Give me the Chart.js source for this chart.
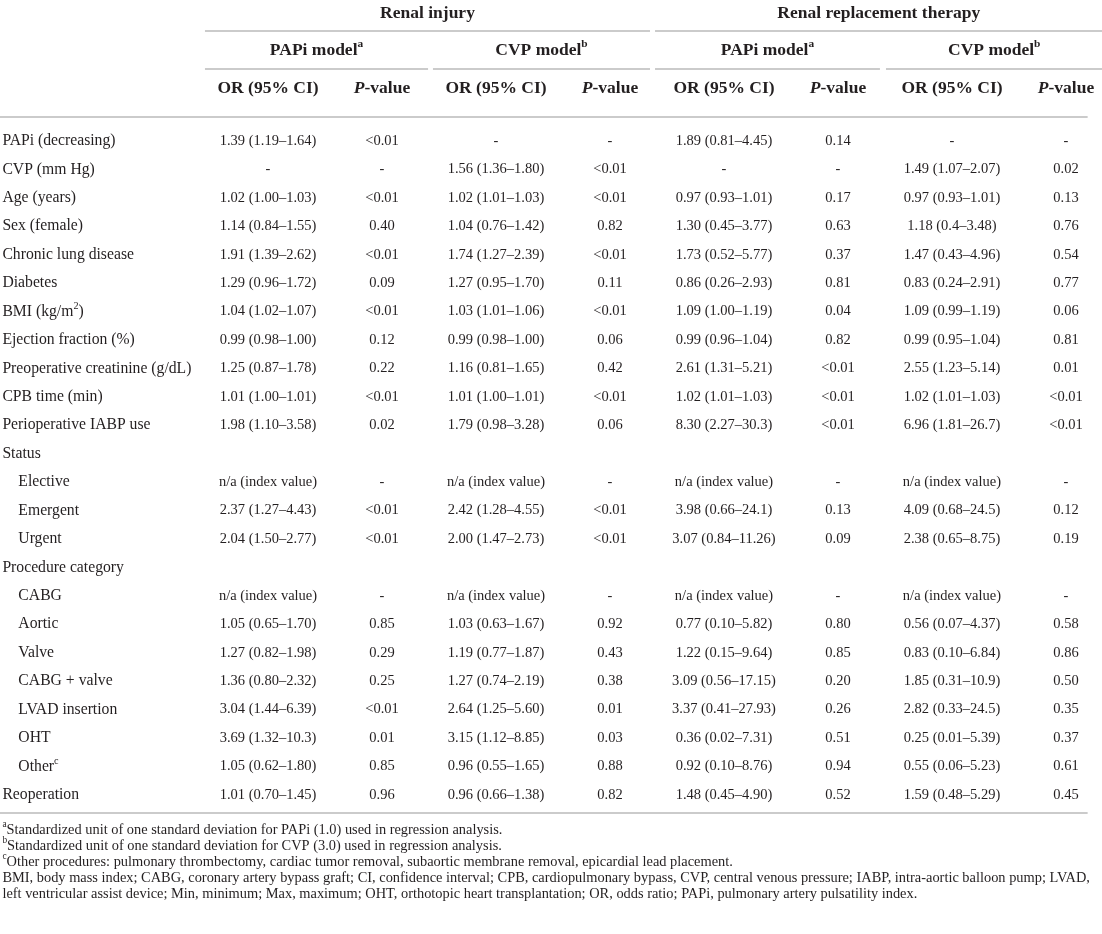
<!DOCTYPE html>
<html>
<head>
<meta charset="utf-8">
<script src="https://cdn.jsdelivr.net/npm/chart.js@4.4.1/dist/chart.umd.min.js"></script>
<style>
html,body{margin:0;padding:0;background:#ffffff;}
#wrap{width:1102px;height:934px;position:relative;}
</style>
</head>
<body>
<div id="wrap"><canvas id="c" width="1102" height="934"></canvas></div>
<script>
// ---------------- DATA ----------------
const rowLabels = [
  'PAPi (decreasing)', 'CVP (mm Hg)', 'Age (years)', 'Sex (female)', 'Chronic lung disease',
  'Diabetes', 'BMI (kg/m^2)', 'Ejection fraction (%)', 'Preoperative creatinine (g/dL)',
  'CPB time (min)', 'Perioperative IABP use', 'Status', 'Elective', 'Emergent', 'Urgent',
  'Procedure category', 'CABG', 'Aortic', 'Valve', 'CABG + valve', 'LVAD insertion', 'OHT',
  'Other^c', 'Reoperation'
];
const rowLevel = [0,0,0,0,0,0,0,0,0,0,0,0,1,1,1,0,1,1,1,1,1,1,1,0];

const injPapiOR = ['1.39 (1.19–1.64)','-','1.02 (1.00–1.03)','1.14 (0.84–1.55)','1.91 (1.39–2.62)','1.29 (0.96–1.72)','1.04 (1.02–1.07)','0.99 (0.98–1.00)','1.25 (0.87–1.78)','1.01 (1.00–1.01)','1.98 (1.10–3.58)','','n/a (index value)','2.37 (1.27–4.43)','2.04 (1.50–2.77)','','n/a (index value)','1.05 (0.65–1.70)','1.27 (0.82–1.98)','1.36 (0.80–2.32)','3.04 (1.44–6.39)','3.69 (1.32–10.3)','1.05 (0.62–1.80)','1.01 (0.70–1.45)'];
const injPapiP  = ['<0.01','-','<0.01','0.40','<0.01','0.09','<0.01','0.12','0.22','<0.01','0.02','','-','<0.01','<0.01','','-','0.85','0.29','0.25','<0.01','0.01','0.85','0.96'];
const injCvpOR  = ['-','1.56 (1.36–1.80)','1.02 (1.01–1.03)','1.04 (0.76–1.42)','1.74 (1.27–2.39)','1.27 (0.95–1.70)','1.03 (1.01–1.06)','0.99 (0.98–1.00)','1.16 (0.81–1.65)','1.01 (1.00–1.01)','1.79 (0.98–3.28)','','n/a (index value)','2.42 (1.28–4.55)','2.00 (1.47–2.73)','','n/a (index value)','1.03 (0.63–1.67)','1.19 (0.77–1.87)','1.27 (0.74–2.19)','2.64 (1.25–5.60)','3.15 (1.12–8.85)','0.96 (0.55–1.65)','0.96 (0.66–1.38)'];
const injCvpP   = ['-','<0.01','<0.01','0.82','<0.01','0.11','<0.01','0.06','0.42','<0.01','0.06','','-','<0.01','<0.01','','-','0.92','0.43','0.38','0.01','0.03','0.88','0.82'];
const rrtPapiOR = ['1.89 (0.81–4.45)','-','0.97 (0.93–1.01)','1.30 (0.45–3.77)','1.73 (0.52–5.77)','0.86 (0.26–2.93)','1.09 (1.00–1.19)','0.99 (0.96–1.04)','2.61 (1.31–5.21)','1.02 (1.01–1.03)','8.30 (2.27–30.3)','','n/a (index value)','3.98 (0.66–24.1)','3.07 (0.84–11.26)','','n/a (index value)','0.77 (0.10–5.82)','1.22 (0.15–9.64)','3.09 (0.56–17.15)','3.37 (0.41–27.93)','0.36 (0.02–7.31)','0.92 (0.10–8.76)','1.48 (0.45–4.90)'];
const rrtPapiP  = ['0.14','-','0.17','0.63','0.37','0.81','0.04','0.82','<0.01','<0.01','<0.01','','-','0.13','0.09','','-','0.80','0.85','0.20','0.26','0.51','0.94','0.52'];
const rrtCvpOR  = ['-','1.49 (1.07–2.07)','0.97 (0.93–1.01)','1.18 (0.4–3.48)','1.47 (0.43–4.96)','0.83 (0.24–2.91)','1.09 (0.99–1.19)','0.99 (0.95–1.04)','2.55 (1.23–5.14)','1.02 (1.01–1.03)','6.96 (1.81–26.7)','','n/a (index value)','4.09 (0.68–24.5)','2.38 (0.65–8.75)','','n/a (index value)','0.56 (0.07–4.37)','0.83 (0.10–6.84)','1.85 (0.31–10.9)','2.82 (0.33–24.5)','0.25 (0.01–5.39)','0.55 (0.06–5.23)','1.59 (0.48–5.29)'];
const rrtCvpP   = ['-','0.02','0.13','0.76','0.54','0.77','0.06','0.81','0.01','<0.01','<0.01','','-','0.12','0.19','','-','0.58','0.86','0.50','0.35','0.37','0.61','0.45'];

const groupHeaders  = ['Renal injury', 'Renal replacement therapy'];
const modelHeaders  = ['PAPi model^a', 'CVP model^b', 'PAPi model^a', 'CVP model^b'];
const columnHeaders = ['OR (95% CI)', '*P*-value', 'OR (95% CI)', '*P*-value', 'OR (95% CI)', '*P*-value', 'OR (95% CI)', '*P*-value'];
const footnotes = [
  '^aStandardized unit of one standard deviation for PAPi (1.0) used in regression analysis.',
  '^bStandardized unit of one standard deviation for CVP (3.0) used in regression analysis.',
  '^cOther procedures: pulmonary thrombectomy, cardiac tumor removal, subaortic membrane removal, epicardial lead placement.',
  'BMI, body mass index; CABG, coronary artery bypass graft; CI, confidence interval; CPB, cardiopulmonary bypass, CVP, central venous pressure; IABP, intra-aortic balloon pump; LVAD,',
  'left ventricular assist device; Min, minimum; Max, maximum; OHT, orthotopic heart transplantation; OR, odds ratio; PAPi, pulmonary artery pulsatility index.'
];

// ---------------- LAYOUT (scale units) ----------------
const FONT = '"Liberation Serif", "Times New Roman", serif';
const INK = '#231f20';
const RULE = '#cbcbcb';
const LABEL_X = -2.33, INDENT_X = -2.19;
const Y_GROUP = -4.50, Y_MODEL = -3.20, Y_COLHEAD = -1.86;
const Y_FOOT0 = 24.23, FOOT_STEP = 0.565;
const groupSpans = [[-0.553, 3.351], [3.395, 7.32]];
const modelSpans = [[-0.553, 1.404], [1.447, 3.351], [3.395, 5.368], [5.421, 7.32]];
const rules = [
  ...groupSpans.map(s => ({y: -3.87, x0: s[0], x1: s[1]})),
  ...modelSpans.map(s => ({y: -2.53, x0: s[0], x1: s[1]})),
  {y: -0.844, x0: -2.36, x1: 7.19},
  {y: 23.64, x0: -2.36, x1: 7.19}
];

// ---------------- BUILD POINTS ----------------
const colSeries = [injPapiOR, injPapiP, injCvpOR, injCvpP, rrtPapiOR, rrtPapiP, rrtCvpOR, rrtCvpP];
const cellPts = [];
colSeries.forEach((arr, c) => arr.forEach((t, r) => { if (t) cellPts.push({x: c, y: r, t}); }));
const labelPts = rowLabels.map((t, r) => ({x: rowLevel[r] ? INDENT_X : LABEL_X, y: r, t}));
const groupPts = groupHeaders.map((t, i) => ({x: (groupSpans[i][0] + groupSpans[i][1]) / 2, y: Y_GROUP, t}));
const modelPts = modelHeaders.map((t, i) => ({x: (modelSpans[i][0] + modelSpans[i][1]) / 2, y: Y_MODEL, t}));
const colHeadPts = columnHeaders.map((t, c) => ({x: c, y: Y_COLHEAD, t}));
const footPts = footnotes.map((t, i) => ({x: LABEL_X, y: Y_FOOT0 + i * FOOT_STEP, t}));

function ds(data, size, bold, align) {
  return {data, pointRadius: 0, pointHoverRadius: 0, showLine: false, txt: {size, bold, align}};
}

// ---------------- RICH TEXT ----------------
function segs(str) {
  const out = []; const re = /\^(.)|\*([^*]+)\*|([^\^*]+)/g; let m;
  while ((m = re.exec(str))) {
    if (m[1]) out.push({t: m[1], sup: true});
    else if (m[2]) out.push({t: m[2], it: true});
    else out.push({t: m[3]});
  }
  return out;
}
function fontFor(s, size, bold) {
  const sz = s.sup ? size * 0.65 : size;
  return (s.it ? 'italic ' : '') + (bold ? 'bold ' : '') + sz + 'px ' + FONT;
}
function drawRich(ctx, str, x, y, size, bold, align) {
  const ss = segs(str); let w = 0;
  ss.forEach(s => { ctx.font = fontFor(s, size, bold); s.w = ctx.measureText(s.t).width; w += s.w; });
  let cx = align === 'center' ? x - w / 2 : x;
  ctx.textBaseline = 'middle'; ctx.textAlign = 'left';
  ss.forEach(s => { ctx.font = fontFor(s, size, bold); ctx.fillText(s.t, cx, s.sup ? y - size * 0.36 : y); cx += s.w; });
}

const tablePlugin = {
  id: 'tableText',
  afterDatasetsDraw(chart) {
    const ctx = chart.ctx, xs = chart.scales.x, ys = chart.scales.y;
    ctx.save();
    ctx.strokeStyle = RULE; ctx.lineWidth = 2;
    rules.forEach(r => {
      const yy = Math.round(ys.getPixelForValue(r.y));
      ctx.beginPath();
      ctx.moveTo(xs.getPixelForValue(r.x0), yy);
      ctx.lineTo(xs.getPixelForValue(r.x1), yy);
      ctx.stroke();
    });
    ctx.fillStyle = INK;
    chart.data.datasets.forEach((d, i) => {
      const meta = chart.getDatasetMeta(i);
      meta.data.forEach((el, j) => {
        drawRich(ctx, d.data[j].t, el.x, el.y, d.txt.size, d.txt.bold, d.txt.align);
      });
    });
    ctx.restore();
  }
};

new Chart(document.getElementById('c'), {
  type: 'scatter',
  data: {
    datasets: [
      ds(cellPts, 14.5, false, 'center'),
      ds(labelPts, 15.7, false, 'left'),
      ds(groupPts, 17.5, true, 'center'),
      ds(modelPts, 17.5, true, 'center'),
      ds(colHeadPts, 17.5, true, 'center'),
      ds(footPts, 14.4, false, 'left')
    ]
  },
  options: {
    responsive: false,
    animation: false,
    events: [],
    layout: {padding: 0},
    plugins: {legend: {display: false}, tooltip: {enabled: false}},
    scales: {
      x: {type: 'linear', display: false, min: -2.351, max: 7.316},
      y: {type: 'linear', display: false, reverse: true, min: -4.96, max: 27.89}
    }
  },
  plugins: [tablePlugin]
});
</script>
</body>
</html>
